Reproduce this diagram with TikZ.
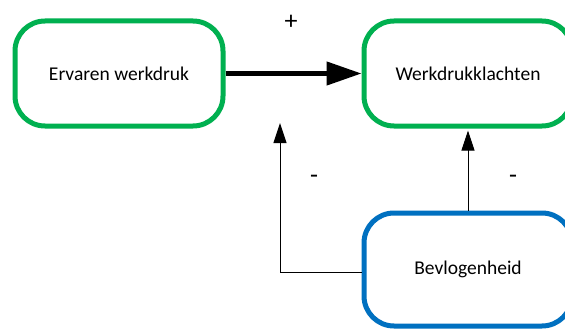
\documentclass[tikz,border=0pt]{standalone}
\usepackage{fontspec}
\setmainfont{Carlito}
\usetikzlibrary{arrows.meta}
\definecolor{boxgreen}{HTML}{00B050}
\definecolor{boxblue}{HTML}{0070C0}
\tikzset{
  factor/.style={draw, rounded corners=30pt, line width=5pt, minimum width=208pt, minimum height=105pt, inner sep=0pt, font=\fontsize{19.5}{23}\selectfont},
  greenbox/.style={factor, draw=boxgreen},
  bluebox/.style={factor, draw=boxblue, minimum height=113pt},
  bigarrow/.style={line width=4.5pt, -{Triangle[length=35pt,width=23pt]}},
  thinarrow/.style={line width=1pt, -{Triangle[length=20pt,width=13pt]}},
  sign/.style={font=\fontsize{26}{30}\selectfont, inner sep=0pt}
}
\begin{document}
\begin{tikzpicture}[x=1pt,y=-1pt]
\clip (0,0) rectangle (565,329);
\fill[white] (0,0) rectangle (565,329);
\node[greenbox] (ew) at (119,73.5) {Ervaren werkdruk};
\node[greenbox] (wk) at (468,73.5) {Werkdrukklachten};
\node[bluebox] (bv) at (468,269.5) {Bevlogenheid};
\coordinate (corner) at (280,272);
\coordinate (tipL) at (280,123);
\draw[bigarrow] (ew.east) -- (wk.west);
\draw[thinarrow] (bv.west |- corner) -- (corner) -- (tipL);
\draw[thinarrow, shorten >=2pt] (bv.north) -- (wk.south);
\node[sign] (plus) at (291,22) {+};
\node[sign] (m1) at (314,179) {-};
\node[sign] (m2) at (513,179) {-};
\end{tikzpicture}
\end{document}
